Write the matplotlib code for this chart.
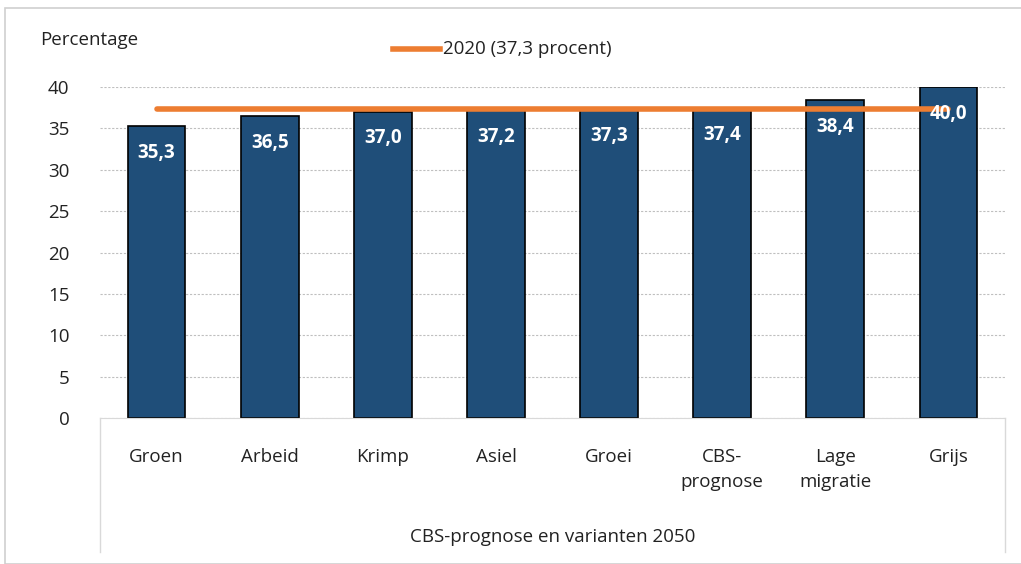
import numpy as np
import matplotlib.pyplot as plt
from matplotlib.lines import Line2D
from matplotlib.patches import Rectangle

plt.rcParams['font.family'] = ['Open Sans', 'DejaVu Sans']

categorieen = ['Groen', 'Arbeid', 'Krimp', 'Asiel', 'Groei', 'CBS-\nprognose', 'Lage\nmigratie', 'Grijs']
waarden = [35.3, 36.5, 37.0, 37.2, 37.3, 37.4, 38.4, 40.0]
niveau_2020 = 37.3
yticks = [0, 5, 10, 15, 20, 25, 30, 35, 40]

W, H = 1021, 564
fs = 13.5
fig = plt.figure(figsize=(W / 100, H / 100), dpi=100)

# kader rond de grafiek
fig.patches.append(Rectangle((5 / W, 0), 1.2, 1 - 8 / H, transform=fig.transFigure,
                             fill=False, edgecolor='#d0d0d0', lw=1.2))

ax = fig.add_axes([100 / W, 1 - 418 / H, 905 / W, 331 / H])
x = np.arange(len(categorieen))
blauw = '#1f4e79'
ax.bar(x, waarden, width=0.51, color=blauw, edgecolor='black', linewidth=1.2, zorder=2)
ax.plot([x[0], x[-1]], [niveau_2020, niveau_2020], color='#ed7d31', lw=4,
        solid_capstyle='round', zorder=3)

for xi, v in zip(x, waarden):
    ax.annotate(f'{v:.1f}'.replace('.', ','), (xi, v), xytext=(0, -12),
                textcoords='offset points', ha='center', va='top',
                color='white', fontsize=fs, fontweight='bold', zorder=4)

ax.set_xlim(-0.5, len(categorieen) - 0.5)
ax.set_ylim(0, 40)
ax.set_yticks(yticks)
ax.set_yticklabels([str(t) for t in yticks], fontsize=fs, color='#222222')
ax.tick_params(axis='y', length=0, pad=22)
ax.set_xticks([])
ax.grid(axis='y', color='#bfbfbf', linestyle=(0, (2, 1.5)), lw=0.8, zorder=0)
for s in ['top', 'right', 'left']:
    ax.spines[s].set_visible(False)
ax.spines['bottom'].set_color('#d9d9d9')
ax.set_axisbelow(True)

# categorie-labels onder de as
for xi, lab in zip(x, categorieen):
    ax.text(xi, -3.6, lab, ha='center', va='top', fontsize=fs, color='#222222',
            linespacing=1.55, clip_on=False)
ax.text(3.5, -14.4, 'CBS-prognose en varianten 2050', ha='center', va='center',
        fontsize=fs, color='#222222', clip_on=False)

# verticale scheidingslijnen van de as-groep
for xf in [100 / W, 1005 / W]:
    fig.add_artist(Line2D([xf, xf], [1 - 418 / H, 1 - 552 / H], color='#d9d9d9', lw=1,
                          transform=fig.transFigure))

fig.text(40 / W, 1 - 40 / H, 'Percentage', fontsize=fs, va='center', ha='left', color='#222222')

fig.add_artist(Line2D([393 / W, 440 / W], [1 - 49 / H, 1 - 49 / H], color='#ed7d31', lw=4,
                      transform=fig.transFigure))
fig.text(443 / W, 1 - 49 / H, '2020 (37,3 procent)', fontsize=fs, va='center', ha='left',
         color='#222222')

fig.savefig('out.png', dpi=100)
